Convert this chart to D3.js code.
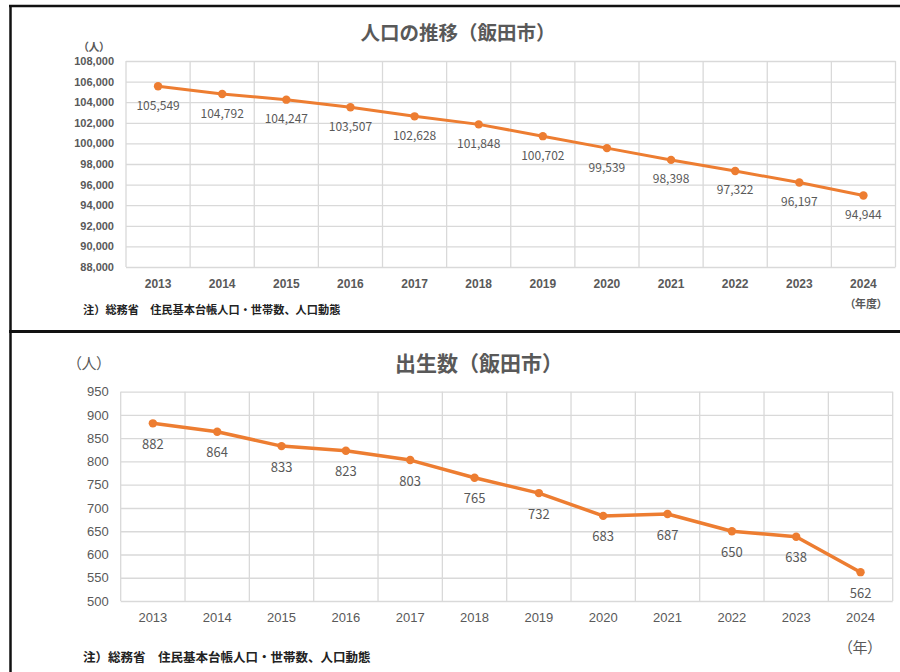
<!DOCTYPE html>
<html><head><meta charset="utf-8">
<script src="https://cdn.jsdelivr.net/npm/d3@7"></script>
<style>
html,body{margin:0;padding:0;background:#fff;}
svg{display:block;font-family:"Noto Sans CJK JP","Noto Sans",sans-serif;}
</style></head>
<body>
<svg id="c" width="900" height="672"></svg>
<script>
const years = ["2013","2014","2015","2016","2017","2018","2019","2020","2021","2022","2023","2024"];
const population = [105549,104792,104247,103507,102628,101848,100702,99539,98398,97322,96197,94944];
const births = [882,864,833,823,803,765,732,683,687,650,638,562];
const popTicks = [88000,90000,92000,94000,96000,98000,100000,102000,104000,106000,108000];
const birthTicks = [500,550,600,650,700,750,800,850,900,950];
const noteText = "注）総務省　住民基本台帳人口・世帯数、人口動態";

const svg = d3.select("#c");
const ORANGE = "#ED7D31", GRID = "#d9d9d9", TXT = "#595959";

// frame lines
svg.append("line").attr("x1",9).attr("x2",900).attr("y1",6).attr("y2",6).attr("stroke","#111").attr("stroke-width",2.5);
svg.append("line").attr("x1",10.5).attr("x2",10.5).attr("y1",5).attr("y2",672).attr("stroke","#111").attr("stroke-width",2.5);
svg.append("line").attr("x1",9).attr("x2",900).attr("y1",331.5).attr("y2",331.5).attr("stroke","#111").attr("stroke-width",3);

function chart(cfg){
  const g = svg.append("g");
  const x = d3.scaleBand().domain(years).range([cfg.x0,cfg.x1]);
  const y = d3.scaleLinear().domain(cfg.domain).range([cfg.y1,cfg.y0]);
  // horizontal grid
  g.append("g").attr("transform",`translate(${cfg.x0},0)`)
    .call(d3.axisLeft(y).tickValues(cfg.ticks).tickSize(-(cfg.x1-cfg.x0)).tickFormat(d3.format(",")).tickPadding(cfg.tickPad))
    .call(a=>a.select(".domain").remove())
    .call(a=>a.selectAll("line").attr("stroke",GRID).attr("stroke-width",1.3))
    .call(a=>a.selectAll("text").attr("fill",TXT).attr("font-size",cfg.ytSize).attr("font-weight",cfg.ytWeight).attr("font-family","inherit"));
  // vertical grid (band edges)
  const edges = years.map(d=>x(d)).concat([cfg.x1]);
  g.append("g").selectAll("line").data(edges).join("line")
    .attr("x1",d=>d).attr("x2",d=>d).attr("y1",cfg.y0).attr("y2",cfg.y1)
    .attr("stroke",GRID).attr("stroke-width",1.3);
  // x axis labels
  g.append("g").attr("transform",`translate(0,${cfg.y1})`)
    .call(d3.axisBottom(x).tickSize(0).tickPadding(cfg.xPad))
    .call(a=>a.select(".domain").remove())
    .call(a=>a.selectAll("text").attr("fill",TXT).attr("font-size",cfg.xtSize).attr("font-weight",cfg.xtWeight).attr("font-family","inherit"));
  // line
  const vals = cfg.values;
  const line = d3.line().x((d,i)=>x(years[i])+x.bandwidth()/2).y(d=>y(d));
  g.append("path").datum(vals).attr("d",line).attr("fill","none").attr("stroke",ORANGE).attr("stroke-width",cfg.lw).attr("stroke-linejoin","round");
  g.append("g").selectAll("circle").data(vals).join("circle")
    .attr("cx",(d,i)=>x(years[i])+x.bandwidth()/2).attr("cy",d=>y(d)).attr("r",4.2).attr("fill",ORANGE);
  g.append("g").selectAll("text").data(vals).join("text")
    .attr("x",(d,i)=>x(years[i])+x.bandwidth()/2).attr("y",d=>y(d)+cfg.lblOff)
    .attr("text-anchor","middle").attr("dominant-baseline","central")
    .attr("fill",TXT).attr("font-size",cfg.lblSize).text(d=>d3.format(",")(d));
  // title
  g.append("text").attr("x",cfg.titleX).attr("y",cfg.titleY).attr("text-anchor","middle").attr("dominant-baseline","central")
    .attr("font-size",cfg.titleSize).attr("font-weight","bold").attr("fill",TXT).text(cfg.title);
  // unit
  g.append("text").attr("x",cfg.unitX).attr("y",cfg.unitY).attr("text-anchor","middle").attr("dominant-baseline","central")
    .attr("font-size",cfg.unitSize).attr("font-weight",cfg.unitWeight).attr("fill",TXT)
    .style("font-feature-settings","'palt'").text("（人）");
  g.append("text").attr("x",cfg.xuX).attr("y",cfg.xuY).attr("text-anchor","middle").attr("dominant-baseline","central")
    .attr("font-size",cfg.xuSize).attr("font-weight",cfg.unitWeight).attr("fill",TXT)
    .style("font-feature-settings","'palt'").text(cfg.xUnit);
  // note
  g.append("text").attr("x",83).attr("y",cfg.noteY).attr("dominant-baseline","central")
    .attr("font-size",cfg.noteSize).attr("font-weight","bold").attr("fill","#222").text(noteText);
}

chart({x0:126,x1:895.5,y0:61,y1:267,domain:[88000,108000],ticks:popTicks,values:population,
  tickPad:12,ytSize:11,ytWeight:"bold",xPad:12,xtSize:12,xtWeight:"bold",lw:3,lblOff:18,lblSize:12,
  title:"人口の推移（飯田市）",titleX:458,titleY:31,titleSize:19.5,
  unitX:94,unitY:45.5,unitSize:11,unitWeight:"bold",xUnit:"（年度）",xuX:866,xuY:302.5,xuSize:11,
  noteY:309,noteSize:11.2});

chart({x0:120.7,x1:892.7,y0:391.7,y1:601,domain:[500,950],ticks:birthTicks,values:births,
  tickPad:12,ytSize:13,ytWeight:"normal",xPad:12,xtSize:13,xtWeight:"normal",lw:3.5,lblOff:20,lblSize:13,
  title:"出生数（飯田市）",titleX:479,titleY:361.5,titleSize:21,
  unitX:89,unitY:362,unitSize:15,unitWeight:"normal",xUnit:"（年）",xuX:860,xuY:646,xuSize:15,
  noteY:656,noteSize:12.5});
</script>
</body></html>
